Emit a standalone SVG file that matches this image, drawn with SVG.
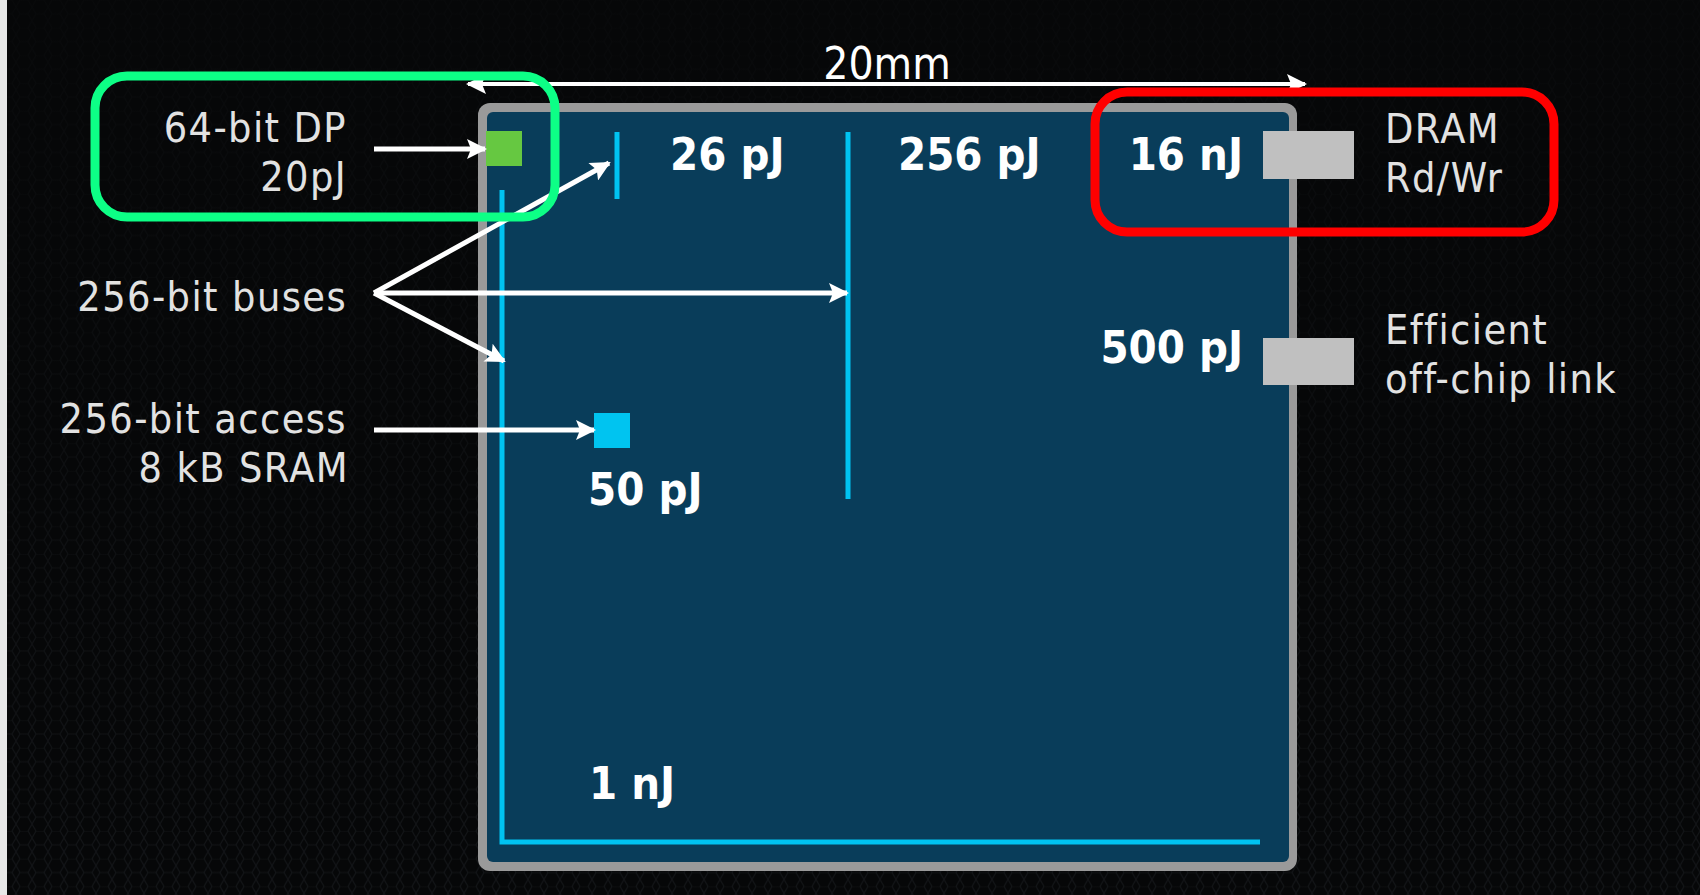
<svg xmlns="http://www.w3.org/2000/svg" width="1700" height="895" viewBox="0 0 1700 895">
<defs>
<style>
.lbl{font-family:"DejaVu Sans Condensed","DejaVu Sans","Liberation Sans",sans-serif;font-size:41px;letter-spacing:1.4px;fill:#e2e2e2}
.en{font-family:"DejaVu Sans Condensed","DejaVu Sans","Liberation Sans",sans-serif;font-size:45px;font-weight:bold;fill:#ffffff}
.bus{stroke:#00c3f2;stroke-width:5;fill:none}
.arr{stroke:#ffffff;stroke-width:5;fill:none;marker-end:url(#ah)}
.hl{fill:none;stroke-width:9}
</style>
<marker id="ah" viewBox="0 0 10 10" refX="9" refY="5" markerWidth="24" markerHeight="20" markerUnits="userSpaceOnUse" orient="auto-start-reverse">
<path d="M0,0 L10,5 L0,10 L2,5 z" fill="#ffffff"/>
</marker>
<pattern id="hex" width="16" height="27.7" patternUnits="userSpaceOnUse">
<path d="M4,0 L12,0 L16,6.9 L12,13.85 L4,13.85 L0,6.9 Z M4,13.85 L0,20.8 L4,27.7 M12,13.85 L16,20.8 L12,27.7" fill="none" stroke="#15171a" stroke-width="1.2"/>
</pattern>
<linearGradient id="fade" x1="0" y1="0" x2="0" y2="1">
<stop offset="0" stop-color="#060708" stop-opacity="0.85"/>
<stop offset="1" stop-color="#060708" stop-opacity="0.15"/>
</linearGradient>
</defs>

<g id="background">
<rect x="0" y="0" width="1700" height="895" fill="#060708"/>
<rect x="0" y="0" width="1700" height="895" fill="url(#hex)"/>
<rect x="0" y="0" width="1700" height="895" fill="url(#fade)"/>
<rect x="0" y="0" width="7" height="895" fill="#e8e8e8"/>
</g>

<g id="chip">
<rect x="478" y="103" width="819" height="768" rx="12" fill="#9a9a9a"/>
<rect x="487" y="112" width="802" height="750" rx="6" fill="#093d5a"/>
</g>

<g id="buses">
<polyline class="bus" points="502,190 502,842 1260,842"/>
<line class="bus" x1="617" y1="132" x2="617" y2="199"/>
<line class="bus" x1="848" y1="132" x2="848" y2="499"/>
</g>

<g id="dp-unit"><rect x="486" y="131" width="36" height="35" fill="#66c841"/></g>
<g id="sram"><rect x="594" y="413" width="36" height="35" fill="#00c4f0"/></g>
<g id="dram-pad"><rect x="1263" y="131" width="91" height="48" fill="#c0c0c0"/></g>
<g id="link-pad"><rect x="1263" y="338" width="91" height="47" fill="#c0c0c0"/></g>

<g id="connectors">
<line class="arr" x1="374" y1="149" x2="485" y2="149"/>
<line class="arr" x1="374" y1="293" x2="609" y2="163"/>
<line class="arr" x1="374" y1="293" x2="847" y2="293"/>
<line class="arr" x1="374" y1="293" x2="504" y2="361"/>
<line class="arr" x1="374" y1="430" x2="594" y2="430"/>
<line class="arr" x1="468" y1="84" x2="1305" y2="84" style="marker-start:url(#ah);stroke-width:4"/>
</g>

<g id="energy-labels">
<text class="en" x="670" y="170">26 pJ</text>
<text class="en" x="898" y="170">256 pJ</text>
<text class="en" x="1243" y="170" text-anchor="end">16 nJ</text>
<text class="en" x="1243" y="363" text-anchor="end">500 pJ</text>
<text class="en" x="588" y="505">50 pJ</text>
<text class="en" x="589" y="799">1 nJ</text>
</g>

<g id="side-labels">
<text class="lbl" x="887" y="79" text-anchor="middle" style="fill:#ffffff;font-size:44px;letter-spacing:0">20mm</text>
<text class="lbl" x="347" y="142" text-anchor="end">64-bit DP</text>
<text class="lbl" x="347" y="191" text-anchor="end">20pJ</text>
<text class="lbl" x="347" y="311" text-anchor="end">256-bit buses</text>
<text class="lbl" x="347" y="433" text-anchor="end">256-bit access</text>
<text class="lbl" x="349" y="482" text-anchor="end">8 kB SRAM</text>
<text class="lbl" x="1385" y="143">DRAM</text>
<text class="lbl" x="1385" y="192">Rd/Wr</text>
<text class="lbl" x="1385" y="344">Efficient</text>
<text class="lbl" x="1385" y="393">off-chip link</text>
</g>

<g id="highlight-dp"><rect class="hl" x="95" y="76" width="460" height="141" rx="32" stroke="#0dff86"/></g>
<g id="highlight-dram"><rect class="hl" x="1095" y="92" width="459" height="140" rx="32" stroke="#ff0000"/></g>
</svg>
